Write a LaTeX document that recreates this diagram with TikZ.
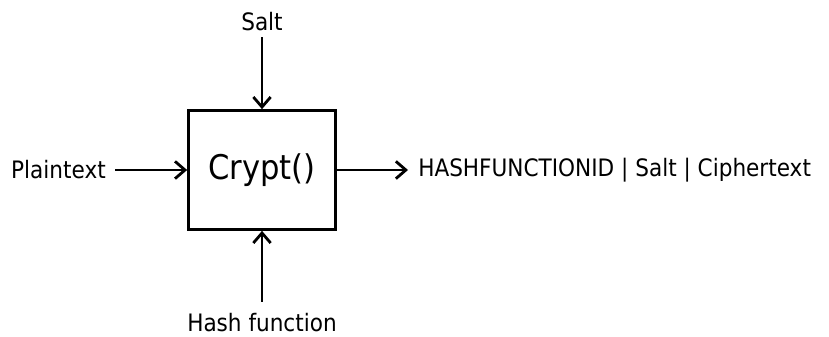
\documentclass[tikz,border=0pt]{standalone}
\usepackage{fontspec}
\setmainfont{DejaVu Sans Condensed}
\usetikzlibrary{arrows.meta}
\begin{document}
\begin{tikzpicture}[x=0.75pt,y=-0.75pt,
  lbl/.style={font=\fontsize{18}{21}\selectfont, inner sep=0pt},
  flow/.style={line width=2.2pt, -{Straight Barb[length=7.5pt,width=13pt,line width=2.1pt]}},
  cbox/.style={draw, line width=2.3pt, minimum width=110pt, minimum height=89pt, inner sep=0pt,
    font=\fontsize{25.5}{30}\selectfont}]
\useasboundingbox (0,0) rectangle (829,336);
\node[cbox] (crypt) at (262,170) {Crypt()};
\node[lbl, anchor=base] (salt) at (262,30) {Salt};
\node[lbl, anchor=east] (plain) at (106,170) {Plaintext};
\node[lbl, anchor=base] (hash) at (262,331) {Hash function};
\node[lbl, anchor=west] (out) at (418,170) {HASHFUNCTIONID | Salt | Ciphertext};
\draw[flow, shorten <=5pt] (salt.south) -- (crypt.north);
\draw[flow, shorten <=8pt] (hash.north) -- (crypt.south);
\draw[flow, shorten <=7pt] (plain.east) -- (crypt.west);
\draw[flow, shorten >=7.5pt] (crypt.east) -- (out.west);
\end{tikzpicture}
\end{document}
